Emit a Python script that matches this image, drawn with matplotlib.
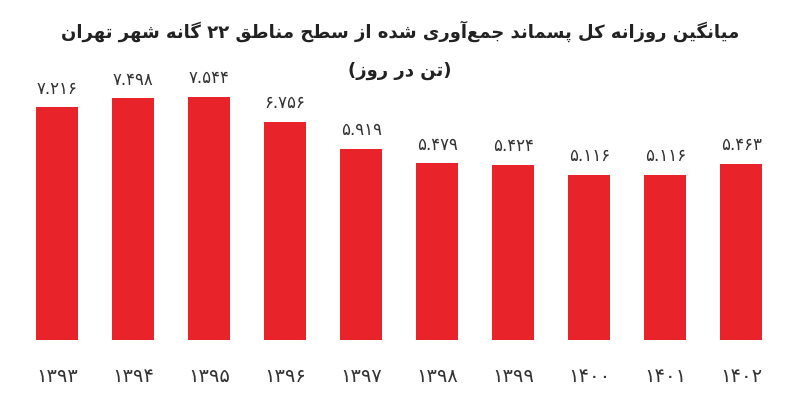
import matplotlib
matplotlib.use("Agg")
import matplotlib.pyplot as plt

years = ["۱۳۹۳", "۱۳۹۴", "۱۳۹۵", "۱۳۹۶", "۱۳۹۷", "۱۳۹۸", "۱۳۹۹", "۱۴۰۰", "۱۴۰۱", "۱۴۰۲"]
values = [7216, 7498, 7544, 6756, 5919, 5479, 5424, 5116, 5116, 5463]
title = "میانگین روزانه کل پسماند جمع\u200cآوری شده از سطح مناطق ۲۲ گانه شهر تهران"
subtitle = "(تن در روز)"

# isolated, final, initial, medial
FORMS = {
    "ا": (0xFE8D, 0xFE8E, None, None), "آ": (0xFE81, 0xFE82, None, None),
    "د": (0xFEA9, 0xFEAA, None, None), "ر": (0xFEAD, 0xFEAE, None, None),
    "ز": (0xFEAF, 0xFEB0, None, None), "و": (0xFEED, 0xFEEE, None, None),
    "پ": (0xFB56, 0xFB57, 0xFB58, 0xFB59), "ت": (0xFE95, 0xFE96, 0xFE97, 0xFE98),
    "ج": (0xFE9D, 0xFE9E, 0xFE9F, 0xFEA0), "ح": (0xFEA1, 0xFEA2, 0xFEA3, 0xFEA4),
    "س": (0xFEB1, 0xFEB2, 0xFEB3, 0xFEB4), "ش": (0xFEB5, 0xFEB6, 0xFEB7, 0xFEB8),
    "ط": (0xFEC1, 0xFEC2, 0xFEC3, 0xFEC4), "ع": (0xFEC9, 0xFECA, 0xFECB, 0xFECC),
    "ق": (0xFED5, 0xFED6, 0xFED7, 0xFED8), "ک": (0xFB8E, 0xFB8F, 0xFB90, 0xFB91),
    "گ": (0xFB92, 0xFB93, 0xFB94, 0xFB95), "ل": (0xFEDD, 0xFEDE, 0xFEDF, 0xFEE0),
    "م": (0xFEE1, 0xFEE2, 0xFEE3, 0xFEE4), "ن": (0xFEE5, 0xFEE6, 0xFEE7, 0xFEE8),
    "ه": (0xFEE9, 0xFEEA, 0xFEEB, 0xFEEC), "ی": (0xFBFC, 0xFBFD, 0xFBFE, 0xFBFF),
}


def shape(s):
    out = []
    for i, c in enumerate(s):
        if c == "\u200c":
            continue
        if c not in FORMS:
            out.append({"(": ")", ")": "("}.get(c, c))
            continue
        f = FORMS[c]
        prev = s[i - 1] if i > 0 else ""
        nxt = s[i + 1] if i + 1 < len(s) else ""
        jp = prev in FORMS and FORMS[prev][2] is not None
        jn = f[2] is not None and nxt in FORMS
        if jp and jn:
            code = f[3]
        elif jp:
            code = f[1]
        elif jn:
            code = f[2]
        else:
            code = f[0]
        out.append(chr(code))
    return "".join(out[::-1])


fig = plt.figure(figsize=(8, 4.17), dpi=100)
ax = fig.add_axes([0.024, 0.185, 0.95, 0.657])
x = range(len(values))
ax.bar(x, values, width=0.56, color="#e8232a")
for i, v in zip(x, values):
    s = str(v)
    lab = (s[0] + "." + s[1:]).translate(str.maketrans("0123456789", "۰۱۲۳۴۵۶۷۸۹"))
    ax.text(i, v + 300, lab, ha="center", va="bottom", fontsize=12, color="#333333")
    ax.text(i, -1150, years[i], ha="center", va="center", fontsize=14, color="#333333")
ax.set_xlim(-0.5, 9.5)
ax.set_ylim(0, 8500)
ax.axis("off")

fig.text(0.5, 0.925, shape(title), ha="center", va="center", fontsize=13,
         fontweight="bold", color="#222222", family="DejaVu Sans")
fig.text(0.5, 0.83, shape(subtitle), ha="center", va="center", fontsize=13,
         fontweight="bold", color="#222222", family="DejaVu Sans")

fig.savefig("out.png", dpi=100)
